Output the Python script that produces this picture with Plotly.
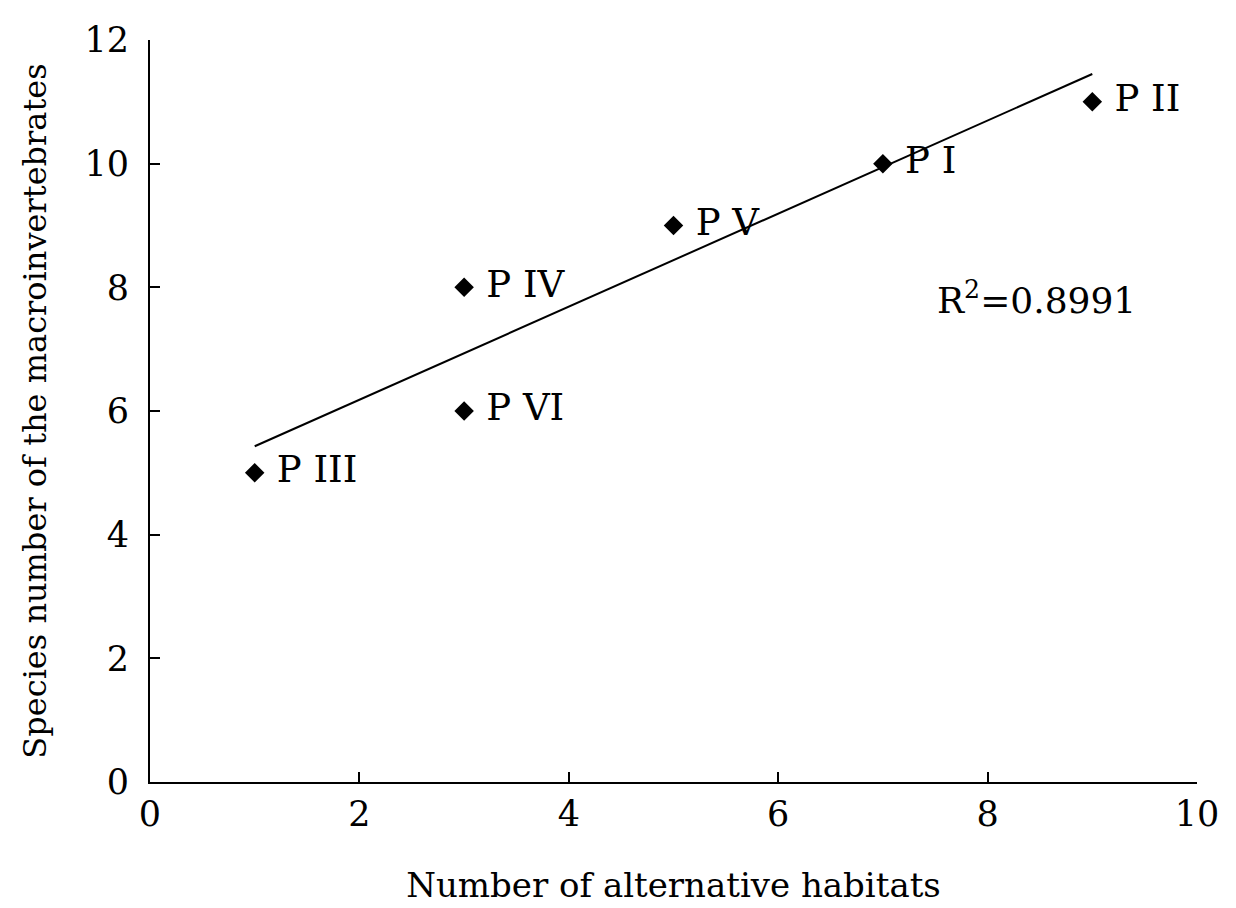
import plotly.graph_objects as go

# Data
habitats = [1, 3, 3, 5, 7, 9]
species = [5, 8, 6, 9, 10, 11]
site_labels = ["P III", "P IV", "P VI", "P V", "P I", "P II"]
trend_x = [1, 9]
trend_y = [5.43, 11.45]
x_ticks = [0, 2, 4, 6, 8, 10]
y_ticks = [0, 2, 4, 6, 8, 10, 12]
r2_text = "R<sup>2</sup>=0.8991"

FONT = "DejaVu Serif"

fig = go.Figure()
fig.add_trace(go.Scatter(
    x=trend_x, y=trend_y, mode="lines",
    line=dict(color="black", width=2), showlegend=False, hoverinfo="skip"))
fig.add_trace(go.Scatter(
    x=habitats, y=species, mode="markers+text",
    marker=dict(symbol="diamond", size=15, color="black"),
    text=[" " + s for s in site_labels], textposition="middle right",
    textfont=dict(family=FONT, size=37, color="black"),
    showlegend=False))

fig.add_annotation(x=7.5, y=7.83, xref="x", yref="y", text=r2_text,
                   showarrow=False, xanchor="left", yanchor="middle",
                   font=dict(family=FONT, size=36, color="black"))

fig.update_layout(
    width=1236, height=908,
    margin=dict(l=142, r=47, t=32, b=134),
    paper_bgcolor="white", plot_bgcolor="white",
    font=dict(family=FONT, color="black"),
)
fig.update_xaxes(
    range=[0, 10], tickvals=x_ticks, ticks="inside", ticklen=10, tickwidth=2,
    tickcolor="black", showline=True, linecolor="black", linewidth=2,
    showgrid=False, zeroline=False, mirror=False,
    tickfont=dict(family=FONT, size=35, color="black"),
    title=dict(text="Number of alternative habitats", standoff=40,
               font=dict(family=FONT, size=34, color="black")))
fig.update_yaxes(
    range=[0, 12], tickvals=y_ticks, ticks="inside", ticklen=10, tickwidth=2,
    tickcolor="black", showline=True, linecolor="black", linewidth=2,
    showgrid=False, zeroline=False, ticklabelstandoff=12,
    tickfont=dict(family=FONT, size=35, color="black"),
    title=dict(text="Species number of the macroinvertebrates", standoff=28,
               font=dict(family=FONT, size=32, color="black")))

fig.write_html("out.html")
